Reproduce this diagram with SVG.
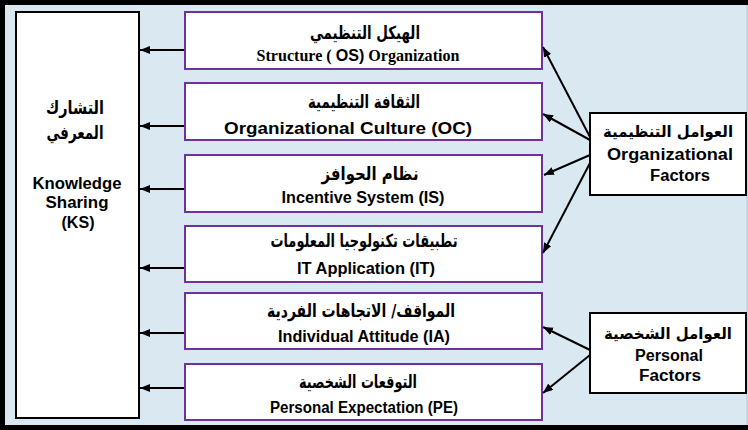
<svg xmlns="http://www.w3.org/2000/svg" width="748" height="430" viewBox="0 0 748 430">
<defs>
<marker id="ah" markerUnits="userSpaceOnUse" markerWidth="11" markerHeight="9" refX="10" refY="4" orient="auto">
<path d="M0,0 L10,4 L0,8 z" fill="#000"/>
</marker>
<style>
.bg{fill:#dae9f1}
.band{fill:#000}
.ks{fill:#fff;stroke:#000;stroke-width:2}
.fb{fill:#fff;stroke:#7030a0;stroke-width:2}
.gb{fill:#fff;stroke:#000;stroke-width:2}
.ar{font-family:"DejaVu Sans","Liberation Sans",sans-serif;font-weight:bold;font-size:18px;text-anchor:middle;fill:#000}
.en{font-family:"Liberation Sans",Arial,sans-serif;font-weight:bold;font-size:16px;text-anchor:middle;fill:#000}
.tm{font-family:"Liberation Serif","Times New Roman",serif;font-weight:bold}
.big{font-size:16px}
.arb{font-size:18px}
.arf{font-size:16px}
.cn{stroke:#000;stroke-width:2;fill:none;marker-end:url(#ah)}
</style>
</defs>
<rect class="bg" x="0" y="0" width="748" height="430"/>
<rect class="band" x="0" y="0" width="748" height="5"/>
<rect class="band" x="0" y="0" width="5" height="430"/>
<rect class="band" x="0" y="425" width="748" height="5"/>
<line x1="747" y1="5" x2="747" y2="425" stroke="#b8c4ca" stroke-width="1"/>

<g id="ks">
<rect class="ks" x="16" y="12" width="123" height="406"/>
<text class="ar arb" x="75" y="114" textLength="58" lengthAdjust="spacingAndGlyphs">التشارك</text>
<text class="ar arb" x="75" y="139" textLength="57" lengthAdjust="spacingAndGlyphs">المعرفي</text>
<text class="en big" x="77" y="189" textLength="89" lengthAdjust="spacingAndGlyphs">Knowledge</text>
<text class="en big" x="77" y="208" textLength="63" lengthAdjust="spacingAndGlyphs">Sharing</text>
<text class="en big" x="78" y="228" textLength="33" lengthAdjust="spacingAndGlyphs">(KS)</text>
</g>

<g id="os">
<rect class="fb" x="185" y="12" width="357" height="57"/>
<text class="ar" x="365" y="39" textLength="110" lengthAdjust="spacingAndGlyphs">الهيكل التنظيمي</text>
<text class="en" x="358" y="61" textLength="203" lengthAdjust="spacingAndGlyphs"><tspan class="tm">Structure ( </tspan>OS)<tspan class="tm"> Organization</tspan></text>
</g>

<g id="oc">
<rect class="fb" x="185" y="83" width="357" height="57"/>
<text class="ar" x="364" y="108" textLength="112" lengthAdjust="spacingAndGlyphs">الثقافة التنظيمية</text>
<text class="en" x="348" y="134" textLength="248" lengthAdjust="spacingAndGlyphs">Organizational Culture (OC)</text>
</g>

<g id="is">
<rect class="fb" x="185" y="155" width="357" height="57"/>
<text class="ar" x="370" y="180" textLength="97" lengthAdjust="spacingAndGlyphs">نظام الحوافز</text>
<text class="en" x="363" y="203" textLength="163" lengthAdjust="spacingAndGlyphs">Incentive System (IS)</text>
</g>

<g id="it">
<rect class="fb" x="185" y="226" width="357" height="56"/>
<text class="ar" x="364" y="247" textLength="187" lengthAdjust="spacingAndGlyphs">تطبيقات تكنولوجيا المعلومات</text>
<text class="en" x="366" y="274" textLength="138" lengthAdjust="spacingAndGlyphs">IT Application (IT)</text>
</g>

<g id="ia">
<rect class="fb" x="185" y="293" width="357" height="56"/>
<text class="ar" x="361" y="317" textLength="188" lengthAdjust="spacingAndGlyphs">المواقف/ الاتجاهات الفردية</text>
<text class="en" x="364" y="342" textLength="172" lengthAdjust="spacingAndGlyphs">Individual Attitude (IA)</text>
</g>

<g id="pe">
<rect class="fb" x="185" y="364" width="357" height="56"/>
<text class="ar" x="358" y="388" textLength="118" lengthAdjust="spacingAndGlyphs">التوقعات الشخصية</text>
<text class="en" x="364" y="413" textLength="188" lengthAdjust="spacingAndGlyphs">Personal Expectation (PE)</text>
</g>

<g id="of">
<rect class="gb" x="590" y="113" width="156" height="82"/>
<text class="ar arf" x="668" y="137" textLength="130" lengthAdjust="spacingAndGlyphs">العوامل التنظيمية</text>
<text class="en big" x="670" y="160" textLength="126" lengthAdjust="spacingAndGlyphs">Organizational</text>
<text class="en big" x="680" y="181" textLength="60" lengthAdjust="spacingAndGlyphs">Factors</text>
</g>

<g id="pf">
<rect class="gb" x="590" y="313" width="156" height="80"/>
<text class="ar arf" x="668" y="339" textLength="128" lengthAdjust="spacingAndGlyphs">العوامل الشخصية</text>
<text class="en big" x="669" y="361" textLength="68" lengthAdjust="spacingAndGlyphs">Personal</text>
<text class="en big" x="670" y="381" textLength="62" lengthAdjust="spacingAndGlyphs">Factors</text>
</g>

<g id="connectors">
<line class="cn" x1="184" y1="50" x2="140" y2="50"/>
<line class="cn" x1="184" y1="126" x2="140" y2="126"/>
<line class="cn" x1="184" y1="189" x2="140" y2="189"/>
<line class="cn" x1="184" y1="268" x2="140" y2="268"/>
<line class="cn" x1="184" y1="333" x2="140" y2="333"/>
<line class="cn" x1="184" y1="388" x2="140" y2="388"/>
<line class="cn" x1="590" y1="137" x2="543" y2="47"/>
<line class="cn" x1="590" y1="140" x2="543" y2="114"/>
<line class="cn" x1="590" y1="155" x2="544" y2="175"/>
<line class="cn" x1="590" y1="163" x2="543" y2="253"/>
<line class="cn" x1="590" y1="350" x2="543" y2="327"/>
<line class="cn" x1="590" y1="355" x2="543" y2="393"/>
</g>
</svg>
